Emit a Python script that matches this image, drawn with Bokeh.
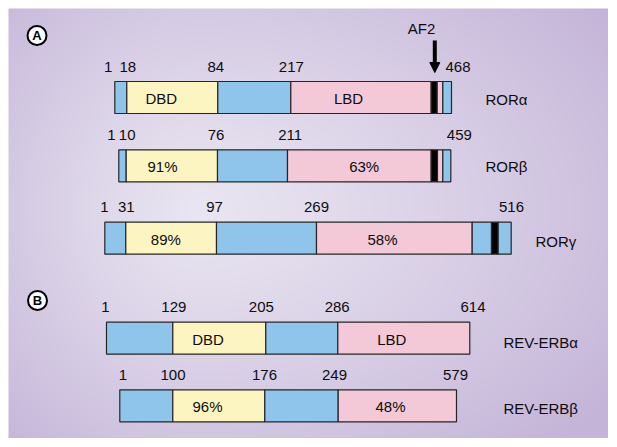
import numpy as np
from bokeh.plotting import figure
from bokeh.models import Range1d, Arrow, NormalHead
from bokeh.core.properties import value
from bokeh.embed import file_html
from bokeh.resources import INLINE

# ---------------- data ----------------
proteins = ["RORα", "RORβ", "RORγ", "REV-ERBα", "REV-ERBβ"]

# residue numbers printed above each bar
residues_ror_a = ["1", "18", "84", "217", "468"]
residues_ror_b = ["1", "10", "76", "211", "459"]
residues_ror_g = ["1", "31", "97", "269", "516"]
residues_rev_a = ["1", "129", "205", "286", "614"]
residues_rev_b = ["1", "100", "176", "249", "579"]
residues = [residues_ror_a, residues_ror_b, residues_ror_g, residues_rev_a, residues_rev_b]

# text inside DBD / LBD (name or % identity)
domain_text = [["DBD", "LBD"], ["91%", "63%"], ["89%", "58%"], ["DBD", "LBD"], ["96%", "48%"]]

# domain kinds of each segment, left to right
kinds_ror_ab = ["AB", "DBD", "hinge", "LBD", "AF2", "LBD", "F"]
kinds_ror_g = ["AB", "DBD", "hinge", "LBD", "F", "AF2", "F"]
kinds_rev = ["AB", "DBD", "hinge", "LBD"]
kinds = [kinds_ror_ab, kinds_ror_ab, kinds_ror_g, kinds_rev, kinds_rev]

# ---------------- schematic layout (not to scale) ----------------
edges_ror_a = [114.3, 126.3, 217.3, 290.3, 430.7, 436.7, 442.3, 451.0]
edges_ror_b = [118.3, 125.7, 217.0, 287.0, 430.7, 437.0, 442.3, 450.3]
edges_ror_g = [104.3, 125.3, 216.0, 316.0, 471.7, 491.0, 497.7, 510.7]
edges_rev_a = [106.0, 172.3, 265.3, 337.3, 469.3]
edges_rev_b = [119.3, 172.3, 264.3, 337.7, 456.0]
edges = [edges_ror_a, edges_ror_b, edges_ror_g, edges_rev_a, edges_rev_b]

bar_top = [81.0, 149.3, 221.7, 321.7, 389.3]
bar_h = 32.0

num_x = [[107.7, 127.3, 215.3, 290.8, 457.5],
         [110.8, 126.7, 215.5, 289.7, 458.8],
         [104.0, 125.8, 214.0, 316.0, 511.0],
         [105.0, 173.3, 260.8, 336.7, 472.5],
         [122.5, 172.5, 264.0, 334.0, 455.0]]
num_gap = 15.0
dom_x = [[160.8, 348.0], [162.0, 363.7], [165.3, 382.0], [207.5, 391.3], [207.0, 390.0]]
name_x = [485, 485, 535, 503, 503]
name_y = [99.0, 166.0, 241.0, 341.7, 408.3]

panel_labels = ["A", "B"]
panel_x = [36.5, 37.0]
panel_y = [35.0, 300.0]

colors = {"AB": "#8fc4eb", "hinge": "#8fc4eb", "F": "#8fc4eb",
          "DBD": "#fdf5c1", "LBD": "#f3c8d7", "AF2": "#000000"}

FONT = value("Liberation Sans")

p = figure(width=608, height=438, output_backend="svg", toolbar_location=None,
           x_range=Range1d(0, 608), y_range=Range1d(438, 0), min_border=0)
p.axis.visible = False
p.grid.visible = False
p.outline_line_color = None
p.background_fill_color = "white"
p.border_fill_color = "white"

# background gradient panel (decorative)
W, H = 600, 430
yy, xx = np.mgrid[0:H, 0:W].astype(float)
cx, cy = 190.0, 200.0
rx = np.where(xx < cx, 300.0, 520.0)
t = np.sqrt(((xx - cx) / rx) ** 2 + ((yy - cy) / 330.0) ** 2)
t = np.clip(t, 0, 1) ** 1.2
light = np.array([233, 229, 241], float)
dark = np.array([196, 180, 216], float)
rgb = light[None, None, :] * (1 - t[..., None]) + dark[None, None, :] * t[..., None]
img = np.empty((H, W), dtype=np.uint32)
view = img.view(dtype=np.uint8).reshape((H, W, 4))
view[..., 0] = rgb[..., 0]
view[..., 1] = rgb[..., 1]
view[..., 2] = rgb[..., 2]
view[..., 3] = 255
p.image_rgba(image=[img], x=8, y=8, dw=600, dh=430)

# bars
L, R, T, B, C = [], [], [], [], []
for i in range(len(proteins)):
    e = edges[i]
    for j, k in enumerate(kinds[i]):
        L.append(e[j]); R.append(e[j + 1])
        T.append(bar_top[i]); B.append(bar_top[i] + bar_h)
        C.append(colors[k])
p.quad(left=L, right=R, top=T, bottom=B, fill_color=C, line_color="#262626", line_width=1.2)

# residue numbers
nx, ny, nt = [], [], []
for i in range(len(proteins)):
    for j, s in enumerate(residues[i]):
        nx.append(num_x[i][j]); ny.append(bar_top[i] - num_gap); nt.append(s)
p.text(x=nx, y=ny, text=nt, text_font=FONT, text_font_size="15px",
       text_align="center", text_baseline="middle", text_color="#0d0d0d")

# domain texts
dx, dy, dt = [], [], []
for i in range(len(proteins)):
    for j, s in enumerate(domain_text[i]):
        dx.append(dom_x[i][j]); dy.append(bar_top[i] + bar_h / 2 + 1); dt.append(s)
p.text(x=dx, y=dy, text=dt, text_font=FONT, text_font_size="15px",
       text_align="center", text_baseline="middle", text_color="#0d0d0d")

# protein names
p.text(x=name_x, y=name_y, text=proteins, text_font=FONT, text_font_size="15px",
       text_align="left", text_baseline="middle", text_color="#0d0d0d")

# AF2 arrow
af2_x = 434.3
p.add_layout(Arrow(end=NormalHead(size=10, fill_color="black", line_color="black"),
                   x_start=af2_x, y_start=40, x_end=af2_x, y_end=72,
                   line_width=4, line_color="black"))
p.text(x=[421], y=[27.5], text=["AF2"], text_font=FONT, text_font_size="15px",
       text_align="center", text_baseline="middle", text_color="#0d0d0d")

# panel labels
p.scatter(x=panel_x, y=panel_y, size=19, marker="circle", fill_color="white",
          line_color="black", line_width=2)
p.text(x=panel_x, y=panel_y, text=panel_labels, text_font=FONT, text_font_size="13px",
       text_font_style="bold", text_align="center", text_baseline="middle", text_color="black")

open("out.html", "w").write(file_html(p, INLINE))
